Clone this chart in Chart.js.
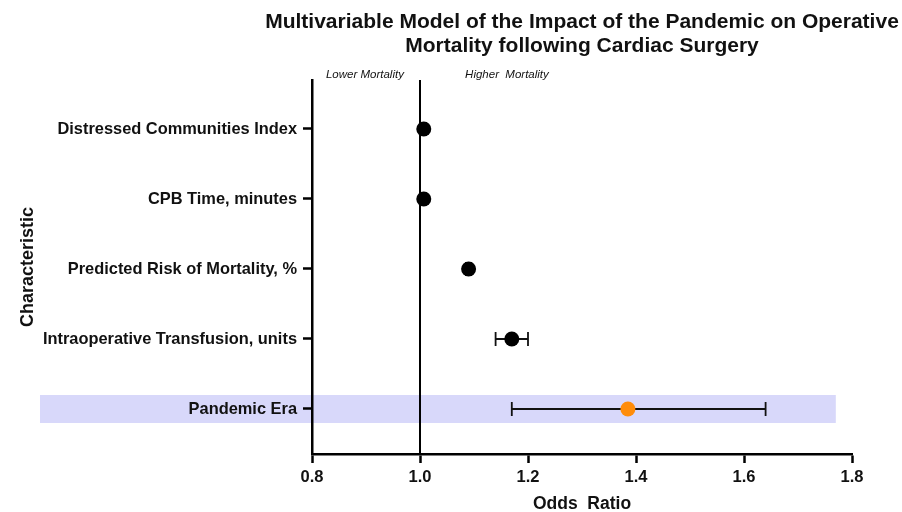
<!DOCTYPE html>
<html>
<head>
<meta charset="utf-8">
<script src="https://cdn.jsdelivr.net/npm/chart.js@4.4.0/dist/chart.umd.min.js"></script>
<style>
  html, body { margin: 0; padding: 0; background: #ffffff; }
  #wrap { width: 902px; height: 512px; }
</style>
</head>
<body>
<div id="wrap"><canvas id="forest" width="902" height="512"></canvas></div>
<script>
// Multivariable odds ratios with 95% confidence intervals
const characteristics = [
  'Distressed Communities Index',
  'CPB Time, minutes',
  'Predicted Risk of Mortality, %',
  'Intraoperative Transfusion, units',
  'Pandemic Era'
];
const oddsRatios = [1.007, 1.007, 1.09, 1.17, 1.385];
const ciLower    = [1.003, 1.004, 1.085, 1.14, 1.17];
const ciUpper    = [1.011, 1.010, 1.095, 1.20, 1.64];
const xTicks = [0.8, 1.0, 1.2, 1.4, 1.6, 1.8];
const highlighted = 'Pandemic Era';
const titleLines = [
  'Multivariable Model of the Impact of the Pandemic on Operative',
  'Mortality following Cardiac Surgery'
];
const lowerLabel = 'Lower Mortality';
const higherLabel = 'Higher  Mortality';
const referenceOR = 1.0;

const FONT = '"Liberation Sans", Arial, Helvetica, sans-serif';
const INK = '#111111';

const points = characteristics.map((c, i) => ({ x: oddsRatios[i], y: i }));
const pointColors = characteristics.map(c => c === highlighted ? '#FF8C0A' : '#000000');

// Shaded band behind the highlighted row
const bandPlugin = {
  id: 'band',
  beforeDraw(chart) {
    const { ctx, scales: { x, y } } = chart;
    const idx = characteristics.indexOf(highlighted);
    if (idx < 0) return;
    const top = y.getPixelForValue(idx - 0.2);
    const bottom = y.getPixelForValue(idx + 0.2);
    const left = 40;
    const right = x.getPixelForValue(1.77);
    ctx.save();
    ctx.fillStyle = '#D8D8FA';
    ctx.fillRect(left, Math.min(top, bottom), right - left, Math.abs(bottom - top));
    ctx.restore();
  }
};

// Reference line at OR = 1, direction labels and confidence intervals
const overlayPlugin = {
  id: 'overlay',
  beforeDatasetsDraw(chart) {
    const { ctx, chartArea, scales: { x, y } } = chart;
    ctx.save();
    const rx = x.getPixelForValue(referenceOR);
    ctx.strokeStyle = '#000';
    ctx.lineWidth = 2;
    ctx.beginPath();
    ctx.moveTo(rx, chartArea.top);
    ctx.lineTo(rx, chartArea.bottom);
    ctx.stroke();

    ctx.fillStyle = INK;
    ctx.font = 'italic 11.5px ' + FONT;
    ctx.textAlign = 'center';
    ctx.textBaseline = 'middle';
    ctx.fillText(lowerLabel, x.getPixelForValue(0.898), chartArea.top - 5);
    ctx.fillText(higherLabel, x.getPixelForValue(1.161), chartArea.top - 5);

    ctx.strokeStyle = '#111';
    ctx.lineWidth = 1.8;
    characteristics.forEach((c, i) => {
      const py = y.getPixelForValue(i);
      const x1 = x.getPixelForValue(ciLower[i]);
      const x2 = x.getPixelForValue(ciUpper[i]);
      ctx.beginPath();
      ctx.moveTo(x1, py); ctx.lineTo(x2, py);
      ctx.moveTo(x1, py - 7); ctx.lineTo(x1, py + 7);
      ctx.moveTo(x2, py - 7); ctx.lineTo(x2, py + 7);
      ctx.stroke();
    });
    ctx.restore();
  }
};

// Two-line title centred over the plotting area
const titlePlugin = {
  id: 'plotTitle',
  afterDraw(chart) {
    const { ctx, chartArea } = chart;
    const cx = (chartArea.left + chartArea.right) / 2;
    ctx.save();
    ctx.fillStyle = INK;
    ctx.font = 'bold 21px ' + FONT;
    ctx.textAlign = 'center';
    ctx.textBaseline = 'middle';
    titleLines.forEach((t, i) => ctx.fillText(t, cx, 22 + i * 24));
    ctx.restore();
  }
};

new Chart(document.getElementById('forest'), {
  type: 'scatter',
  data: {
    datasets: [{
      data: points,
      pointRadius: 7.5,
      pointHoverRadius: 7.5,
      pointBackgroundColor: pointColors,
      pointBorderColor: pointColors,
      pointBorderWidth: 0,
      showLine: false
    }]
  },
  options: {
    responsive: false,
    animation: false,
    layout: { padding: { top: 80, right: 50, bottom: 0, left: 0 } },
    plugins: {
      legend: { display: false },
      tooltip: { enabled: false },
      title: { display: false }
    },
    scales: {
      x: {
        type: 'linear',
        min: 0.8,
        max: 1.8,
        afterBuildTicks(scale) { scale.ticks = xTicks.map(v => ({ value: v })); },
        afterFit(scale) { scale.height = 58; },
        ticks: {
          color: INK,
          font: { family: FONT, size: 16.5, weight: 'bold' },
          padding: 5,
          callback: v => Number(v).toFixed(1)
        },
        grid: { drawOnChartArea: false, drawTicks: true, tickLength: 9, tickWidth: 2.5, tickColor: '#000' },
        border: { display: true, width: 2.5, color: '#000' },
        title: {
          display: true,
          text: 'Odds  Ratio',
          color: INK,
          font: { family: FONT, size: 17.5, weight: 'bold', lineHeight: 0.95 },
          padding: { top: 0, bottom: 0 }
        }
      },
      y: {
        type: 'linear',
        reverse: true,
        min: -0.7,
        max: 4.643,
        afterBuildTicks(scale) { scale.ticks = characteristics.map((c, i) => ({ value: i })); },
        afterFit(scale) { scale.width = 312; },
        ticks: {
          color: INK,
          font: { family: FONT, size: 16.4, weight: 'bold' },
          padding: 6,
          callback: v => characteristics[v]
        },
        grid: { drawOnChartArea: false, drawTicks: true, tickLength: 9, tickWidth: 2.5, tickColor: '#000' },
        border: { display: true, width: 2.5, color: '#000' },
        title: {
          display: true,
          text: 'Characteristic',
          color: INK,
          font: { family: FONT, size: 18, weight: 'bold' },
          padding: { top: 17, bottom: 0 }
        }
      }
    }
  },
  plugins: [bandPlugin, overlayPlugin, titlePlugin]
});
</script>
</body>
</html>
